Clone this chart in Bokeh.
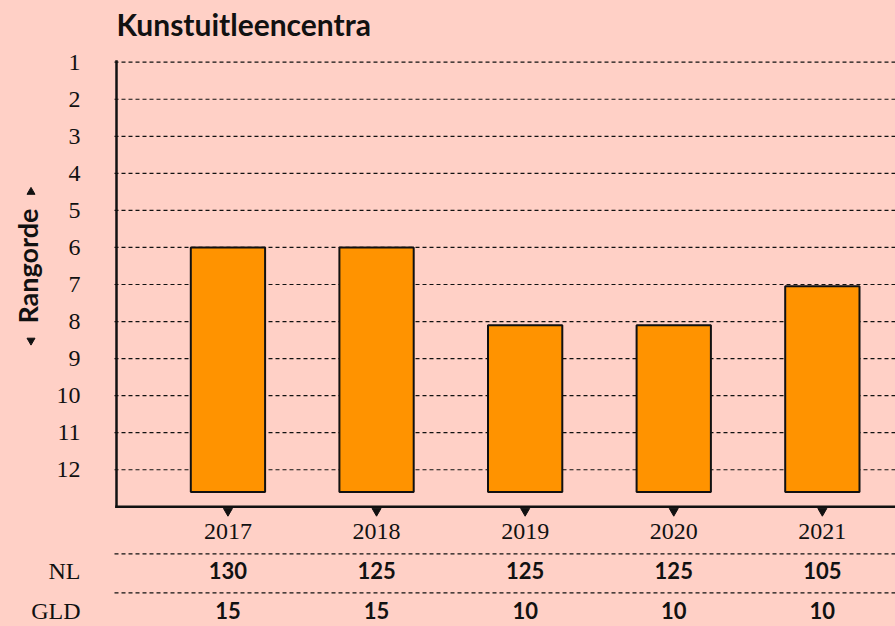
import math
from bokeh.plotting import figure
from bokeh.models import Range1d
from bokeh.embed import file_html
from bokeh.resources import INLINE
from bokeh.core.properties import value

# ---- data ----
years = [2017, 2018, 2019, 2020, 2021]
year_labels = ["2017", "2018", "2019", "2020", "2021"]
rank = [6, 6, 8.1, 8.1, 7.05]
nl_values = ["130", "125", "125", "125", "105"]
gld_values = ["15", "15", "10", "10", "10"]
rank_ticks = list(range(1, 13))
rank_tick_labels = [str(t) for t in rank_ticks]
row_labels = ["NL", "GLD"]
chart_title = "Kunstuitleencentra"
axis_title = "Rangorde"

# ---- styling / layout ----
BG = "#FFD0C6"
BAR = "#FF9300"
INK = "#111111"
SERIF = "Liberation Serif"
SANS = "Lato"

W, H = 895, 626
px_per_rank = 37.05
px_per_year = 148.6
axis_px = 116.0           # canvas x of the vertical axis line
rank1_px = 61.7           # canvas y of rank 1


def xs(px):
    """canvas x (pixels) -> data x"""
    return axis_x + (px - axis_px) / px_per_year


def ys(py):
    """canvas y (pixels) -> data y (rank)"""
    return 1 + (py - rank1_px) / px_per_rank


axis_x = 2016.25          # position of the vertical axis line
axis_rank = 13            # position of the horizontal axis line
bar_base = 12.6
x_start = xs(0)
x_end = xs(W)
y_end = ys(0)
y_start = ys(H)
axis_top = ys(61)

p = figure(width=W, height=H,
           x_range=Range1d(x_start, x_end), y_range=Range1d(y_start, y_end),
           output_backend="svg", toolbar_location=None,
           min_border=0, min_border_left=0, min_border_top=0,
           min_border_right=0, min_border_bottom=0,
           background_fill_color=BG, border_fill_color=BG,
           outline_line_color=None)
p.xaxis.visible = False
p.yaxis.visible = False
p.grid.visible = False

grid_x0 = xs(114)
row_line_y = [ys(553.3), ys(592.3)]
dash = dict(line_color=INK, line_dash="4 3", line_width=1.2)
p.segment(x0=[grid_x0] * len(rank_ticks), y0=rank_ticks,
          x1=[x_end] * len(rank_ticks), y1=rank_ticks, **dash)
p.segment(x0=[grid_x0] * 2, y0=row_line_y, x1=[x_end] * 2, y1=row_line_y, **dash)

# bars
p.vbar(x=years, top=rank, bottom=bar_base, width=0.5,
       fill_color=BAR, line_color=INK, line_width=2)

# axis lines
p.segment(x0=[axis_x], y0=[axis_top], x1=[axis_x], y1=[axis_rank],
          line_color=INK, line_width=2.5, line_cap="square")
p.segment(x0=[axis_x], y0=[axis_rank], x1=[x_end], y1=[axis_rank],
          line_color=INK, line_width=2.5, line_cap="square")

# rank tick labels
label_x = xs(80)
p.text(x=[label_x] * len(rank_ticks), y=rank_ticks, text=rank_tick_labels,
       text_align="right", text_baseline="middle",
       text_font=value(SERIF), text_font_size="24px", text_color=INK)

# x tick marks and year labels
p.scatter(x=years, y=[ys(510.5)] * len(years), marker="inverted_triangle",
          size=9, color=INK)
p.text(x=years, y=[ys(530.5)] * len(years), text=year_labels,
       text_align="center", text_baseline="middle",
       text_font=value(SERIF), text_font_size="24px", text_color=INK)

# table rows
row_y = [ys(570), ys(610)]
p.text(x=[label_x] * 2, y=row_y, text=row_labels,
       text_align="right", text_baseline="middle",
       text_font=value(SERIF), text_font_size="24px", text_color=INK)
p.text(x=years, y=[row_y[0]] * len(years), text=nl_values,
       text_align="center", text_baseline="middle",
       text_font=value(SANS), text_font_style="bold",
       text_font_size="22px", text_color=INK)
p.text(x=years, y=[row_y[1]] * len(years), text=gld_values,
       text_align="center", text_baseline="middle",
       text_font=value(SANS), text_font_style="bold",
       text_font_size="22px", text_color=INK)

# chart title
p.text(x=[axis_x], y=[ys(23)], text=[chart_title],
       text_align="left", text_baseline="middle",
       text_font=value(SANS), text_font_style="bold",
       text_font_size="30px", text_color=INK)

# vertical axis title with arrow heads
p.text(x=[xs(27)], y=[ys(265.5)], text=[axis_title], angle=math.pi / 2,
       text_align="center", text_baseline="middle",
       text_font=value(SANS), text_font_style="bold",
       text_font_size="27px", text_color=INK)
p.scatter(x=[xs(30.5)], y=[ys(191.5)], marker="triangle", size=8, color=INK)
p.scatter(x=[xs(30.5)], y=[ys(340)], marker="inverted_triangle", size=8, color=INK)

html = file_html(p, INLINE).replace("<body>", '<body style="background:%s">' % BG)
open("out.html", "w").write(html)
